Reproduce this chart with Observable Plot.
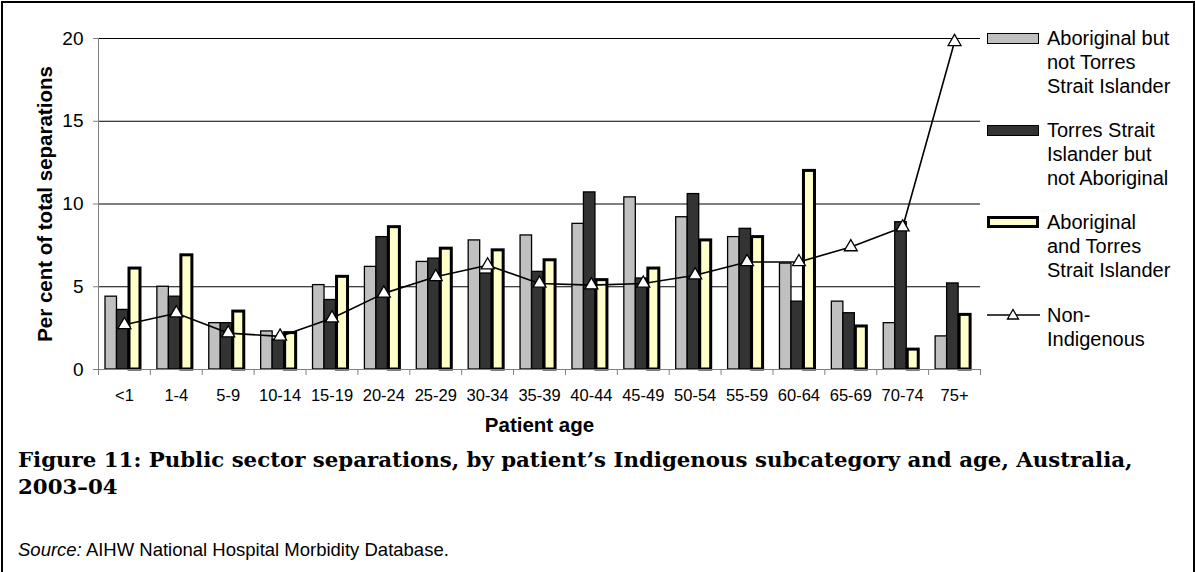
<!DOCTYPE html>
<html>
<head>
<meta charset="utf-8">
<script src="https://cdn.jsdelivr.net/npm/d3@7"></script>
<script src="https://cdn.jsdelivr.net/npm/@observablehq/plot@0.6"></script>
<style>
  html, body { margin: 0; padding: 0; background: #fff; }
  #page { position: relative; width: 1195px; height: 572px; overflow: hidden; font-family: "Liberation Sans", Arial, sans-serif; }
  #frame { position: absolute; left: 1px; top: 1px; width: 1190px; height: 580px; border: 2px solid #000; pointer-events: none; }
  #chart { position: absolute; left: 0; top: 0; }
  .leg { position: absolute; left: 1047px; font-size: 20px; line-height: 24px; color: #000; white-space: nowrap; }
  .sw { position: absolute; left: 987px; width: 52px; box-sizing: border-box; }
  #title { position: absolute; left: 18px; top: 446px; font-family: "DejaVu Serif", serif; font-weight: bold; font-size: 21.3px; line-height: 27px; color: #000; white-space: nowrap; }
  #source { position: absolute; left: 18px; top: 539px; font-size: 18.5px; line-height: 22px; color: #000; white-space: nowrap; }
</style>
</head>
<body>
<div id="page">
  <div id="chart"></div>
  <div class="sw" style="top:33px;height:11px;background:#C0C0C0;border:1.5px solid #000;"></div>
  <div class="leg" style="top:26px;">Aboriginal but<br>not Torres<br>Strait Islander</div>
  <div class="sw" style="top:125px;height:11px;background:#333333;border:1.5px solid #000;"></div>
  <div class="leg" style="top:118px;">Torres Strait<br>Islander but<br>not Aboriginal</div>
  <div class="sw" style="top:216px;height:12px;background:#FFFFCC;border:3px solid #000;"></div>
  <div class="leg" style="top:210px;">Aboriginal<br>and Torres<br>Strait Islander</div>
  <svg style="position:absolute;left:985px;top:305px;" width="58" height="20">
    <line x1="2" y1="10" x2="55" y2="10" stroke="#000" stroke-width="1.5"></line>
    <path d="M28,4.5 L33.5,14 L22.5,14 Z" fill="#fff" stroke="#000" stroke-width="1.3"></path>
  </svg>
  <div class="leg" style="top:303px;">Non-<br>Indigenous</div>
  <div id="title">Figure 11: Public sector separations, by patient’s Indigenous subcategory and age, Australia,<br>2003–04</div>
  <div id="source"><i>Source:</i> AIHW National Hospital Morbidity Database.</div>
  <div id="frame"></div>
</div>
<script>
const ages = ["<1","1-4","5-9","10-14","15-19","20-24","25-29","30-34","35-39","40-44","45-49","50-54","55-59","60-64","65-69","70-74","75+"];
const aboriginalNotTSI = [4.4, 5.0, 2.8, 2.3, 5.1, 6.2, 6.5, 7.8, 8.1, 8.8, 10.4, 9.2, 8.0, 6.4, 4.1, 2.8, 2.0];
const tsiNotAboriginal = [3.6, 4.4, 2.8, 1.8, 4.2, 8.0, 6.7, 5.8, 5.9, 10.7, 5.5, 10.6, 8.5, 4.1, 3.4, 8.9, 5.2];
const aboriginalAndTSI = [6.1, 6.9, 3.5, 2.2, 5.6, 8.6, 7.3, 7.2, 6.6, 5.4, 6.1, 7.8, 8.0, 12.0, 2.6, 1.2, 3.3];
const nonIndigenous = [2.7, 3.4, 2.2, 2.0, 3.1, 4.6, 5.6, 6.3, 5.2, 5.1, 5.2, 5.7, 6.5, 6.5, 7.4, 8.6, 19.8];
const yTicks = [0, 5, 10, 15, 20];

const rows = ages.map((a, i) => ({age: a, g: aboriginalNotTSI[i], d: tsiNotAboriginal[i], y: aboriginalAndTSI[i], n: nonIndigenous[i]}));

const W = 1195, H = 440;
const mL = 98, mR = 215, mT = 38, mB = 71;
const bw = (W - mL - mR) / ages.length;

const chart = Plot.plot({
  width: W, height: H,
  marginLeft: mL, marginRight: mR, marginTop: mT, marginBottom: mB,
  style: {fontFamily: "'Liberation Sans', Arial, sans-serif", color: "#000", background: "#fff", overflow: "visible"},
  x: {domain: ages, padding: 0, round: false, axis: null},
  y: {domain: [0, 20], axis: null},
  marks: [
    Plot.ruleY(yTicks.filter(t => t > 0), {stroke: "#000", strokeWidth: 1}),
    Plot.frame({anchor: "left", stroke: "#808080"}),
    Plot.axisY({ticks: yTicks, tickSize: 5, tickPadding: 10, fontSize: 19, label: null, stroke: "#808080"}),
    Plot.ruleX(ages, {x: d => d, dx: -bw / 2, y1: 0, y2: -0.36, stroke: "#808080"}),
    Plot.ruleX([ages[ages.length - 1]], {x: d => d, dx: bw / 2, y1: 0, y2: -0.36, stroke: "#808080"}),
    Plot.barY(rows, {x: "age", y: "g", fill: "#C0C0C0", stroke: "#000", strokeWidth: 1.3, insetLeft: 7, insetRight: bw - 18.5}),
    Plot.barY(rows, {x: "age", y: "d", fill: "#333333", stroke: "#000", strokeWidth: 1.3, insetLeft: 18.5, insetRight: bw - 30}),
    Plot.barY(rows, {x: "age", y: "y", fill: "#FFFFCC", stroke: "#000", strokeWidth: 3, insetLeft: 31, insetRight: bw - 42}),
    Plot.ruleY([0], {stroke: "#808080"}),
    Plot.line(rows, {x: "age", y: "n", stroke: "#000", strokeWidth: 1.6}),
    Plot.dot(rows, {x: "age", y: "n", symbol: "triangle", r: 4.8, fill: "#fff", stroke: "#000", strokeWidth: 1.3}),
    Plot.text(ages, {x: d => d, frameAnchor: "bottom", lineAnchor: "middle", dy: 26, fontSize: 16.5}),
    Plot.text(["Per cent of total separations"], {frameAnchor: "left", textAnchor: "middle", lineAnchor: "middle", rotate: -90, dx: -53, fontWeight: "bold", fontSize: 20.5}),
    Plot.text(["Patient age"], {frameAnchor: "bottom", lineAnchor: "middle", dy: 56, fontWeight: "bold", fontSize: 20.5})
  ]
});
document.getElementById("chart").appendChild(chart);
</script>
</body>
</html>
